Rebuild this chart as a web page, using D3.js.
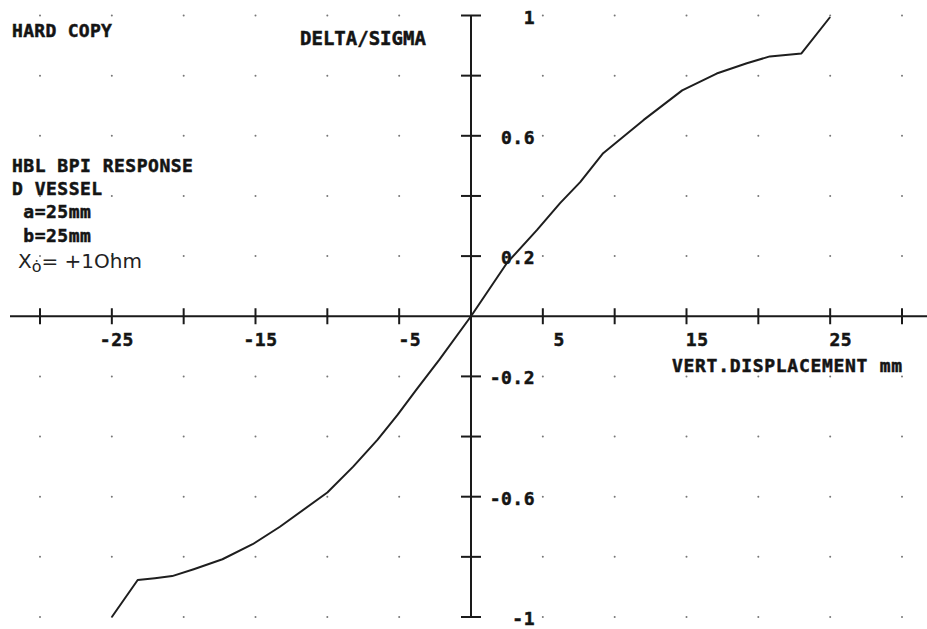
<!DOCTYPE html>
<html>
<head>
<meta charset="utf-8">
<script src="https://cdn.jsdelivr.net/npm/d3@7"></script>
<style>
  html, body { margin: 0; padding: 0; background: #fff; }
  svg { display: block; }
  text { white-space: pre; }
  .mono { font-family: "DejaVu Sans Mono", "Liberation Mono", monospace; font-weight: bold; fill: #141414; stroke: #141414; stroke-width: 0.5; }
  .hand { font-family: "DejaVu Sans", "Liberation Sans", sans-serif; font-weight: normal; fill: #222; }
</style>
</head>
<body>
<script>
// Vertical displacement (mm) vs normalised delta/sigma response
const displacement = [-25, -23.2, -22, -20.8, -19.3, -17.3, -15.2, -13.3, -10, -8.2, -6.5, -5.1, -3.8, -2.2, 0,
                      2.5, 4.6, 6.2, 7.6, 9.2, 12, 14.7, 17.1, 19.2, 20.8, 23, 25];
const deltaSigma   = [-1, -0.877, -0.871, -0.864, -0.841, -0.808, -0.758, -0.70, -0.586, -0.50, -0.41, -0.327, -0.244, -0.144, 0,
                      0.177, 0.287, 0.376, 0.446, 0.542, 0.652, 0.751, 0.807, 0.841, 0.864, 0.874, 0.995];

const xTicks = [-30, -25, -20, -15, -10, -5, 5, 10, 15, 20, 25, 30];
const xTickLabels = [-25, -15, -5, 5, 15, 25];
const yTicks = [-1, -0.8, -0.6, -0.4, -0.2, 0.2, 0.4, 0.6, 0.8, 1];
const yTickLabels = [1, 0.6, 0.2, -0.2, -0.6, -1];

const W = 927, H = 629;
const svg = d3.select("body").append("svg").attr("width", W).attr("height", H);

const x = d3.scaleLinear().domain([-30, 30]).range([40, 902]);
const y = d3.scaleLinear().domain([-1, 1]).range([617, 15.5]);
const x0 = x(0), y0 = y(0);

// dotted grid at every tick intersection
const gridPts = [];
xTicks.forEach(a => yTicks.forEach(b => gridPts.push([a, b])));
svg.append("g").selectAll("circle").data(gridPts).join("circle")
  .attr("cx", d => x(d[0])).attr("cy", d => y(d[1])).attr("r", 1)
  .attr("fill", "#777");

// horizontal axis
const ax = svg.append("g").attr("stroke", "#1a1a1a");
ax.append("line").attr("x1", 10).attr("x2", W).attr("y1", y0).attr("y2", y0).attr("stroke-width", 2);
ax.selectAll("line.xt").data(xTicks).join("line").attr("class", "xt")
  .attr("x1", d => x(d)).attr("x2", d => x(d))
  .attr("y1", y0 - 8).attr("y2", y0 + 8).attr("stroke-width", 2);

// vertical axis with end caps
ax.append("line").attr("x1", x0).attr("x2", x0).attr("y1", y(1)).attr("y2", y(-1)).attr("stroke-width", 2);
ax.selectAll("line.yt").data(yTicks).join("line").attr("class", "yt")
  .attr("x1", x0 - 10).attr("x2", x0 + 10)
  .attr("y1", d => y(d)).attr("y2", d => y(d)).attr("stroke-width", 2);

// tick labels
svg.append("g").selectAll("text").data(xTickLabels).join("text")
  .attr("class", "mono").attr("font-size", 18).attr("letter-spacing", 0.5)
  .attr("x", d => x(d) + 22).attr("y", y0 + 30).attr("text-anchor", "end")
  .text(d => d);

svg.append("g").selectAll("text").data(yTickLabels).join("text")
  .attr("class", "mono").attr("font-size", 18).attr("letter-spacing", 0.5)
  .attr("x", x0 + 64).attr("y", d => y(d) + 8).attr("text-anchor", "end")
  .text(d => d);

// response curve
const line = d3.line().x(d => x(d[0])).y(d => y(d[1]));
svg.append("path")
  .datum(displacement.map((v, i) => [v, deltaSigma[i]]))
  .attr("d", line).attr("fill", "none")
  .attr("stroke", "#1e1e1e").attr("stroke-width", 2).attr("stroke-linejoin", "round");

// headings and annotations
const txt = (s, px, py, size, sp) => svg.append("text").attr("class", "mono")
  .attr("x", px).attr("y", py).attr("font-size", size).attr("letter-spacing", sp).text(s);

txt("HARD COPY", 12, 37, 18, 0.3);
txt("DELTA/SIGMA", 300, 45, 19, 0);
txt("HBL BPI RESPONSE", 12, 172, 18, 0.5);
txt("D VESSEL", 12, 195, 18, 0.5);
txt(" a=25mm", 12, 218, 18, 0.5);
txt(" b=25mm", 12, 242, 18, 0.5);
txt("VERT.DISPLACEMENT mm", 672, 372, 18, 0.7);

const hand = svg.append("text").attr("class", "hand").attr("x", 18).attr("y", 268).attr("font-size", 20);
hand.append("tspan").text("X");
hand.append("tspan").attr("dy", 4).attr("font-size", 16).text("ȯ");
hand.append("tspan").attr("dy", -4).text("= +1Ohm");
</script>
</body>
</html>
